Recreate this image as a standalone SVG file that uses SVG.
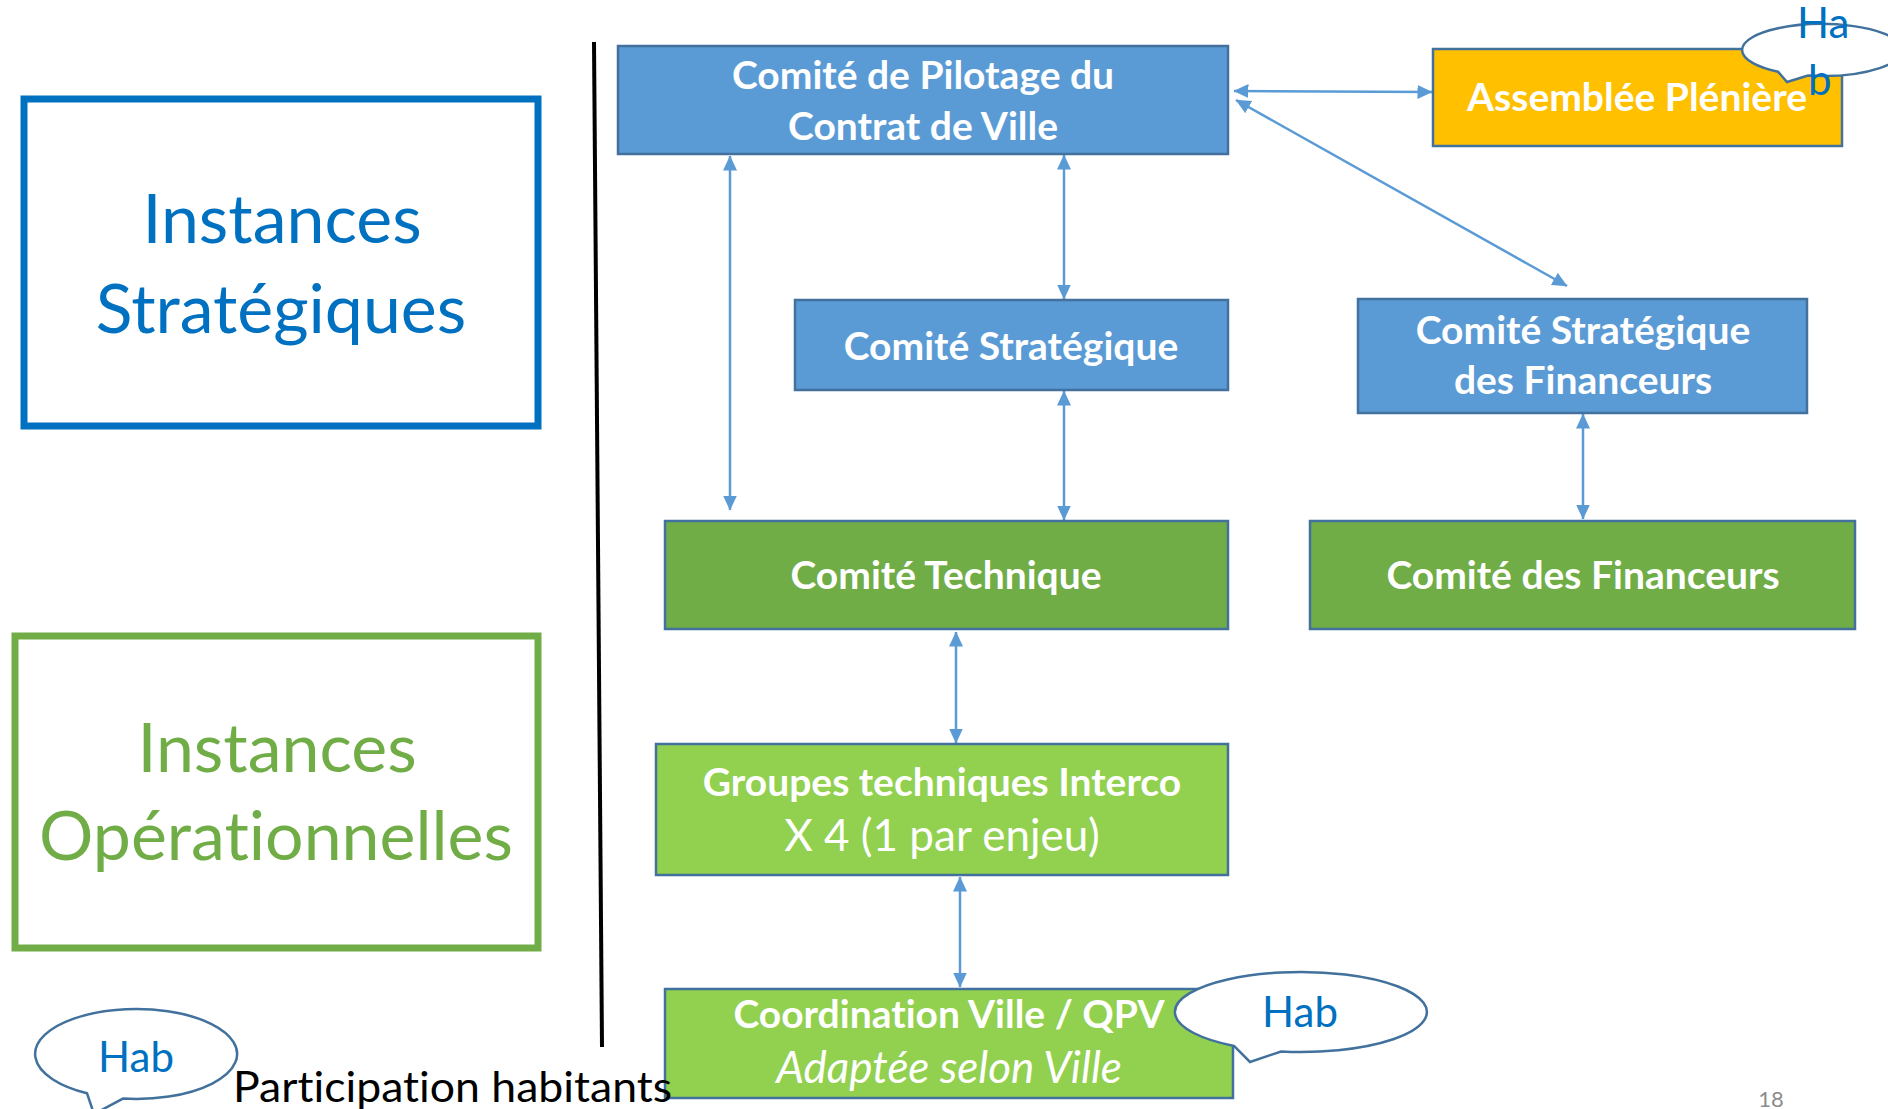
<svg xmlns="http://www.w3.org/2000/svg" width="1888" height="1109" viewBox="0 0 1888 1109">
<defs>
<style>
text{font-variant-ligatures:none;font-feature-settings:"liga" 0,"clig" 0}
.box{stroke:#41719C;stroke-width:2.5}
.blue{fill:#5B9BD5}
.dgreen{fill:#70AD47}
.lgreen{fill:#92D050}
.gold{fill:#FFC000}
.lbl{font-family:Lato,"Liberation Sans",sans-serif;fill:#FFFFFF;text-anchor:middle}
.b{font-weight:bold;font-size:39px}
.r{font-size:44px}
.conn{stroke:#5B9BD5;stroke-width:2.5;fill:none;marker-start:url(#ah);marker-end:url(#ah)}
.call{fill:#FFFFFF;stroke:#41719C;stroke-width:2.5}
.hab{font-family:Lato,"Liberation Sans",sans-serif;font-size:42px;fill:#0070C0}
.big{font-family:Lato,"Liberation Sans",sans-serif;font-size:68px;text-anchor:middle}
</style>
<marker id="ah" viewBox="0 0 15 14" refX="14.5" refY="7" markerWidth="15" markerHeight="14" markerUnits="userSpaceOnUse" orient="auto-start-reverse">
<path d="M0,0 L15,7 L0,14 Z" fill="#5B9BD5"/>
</marker>
</defs>
<rect width="1888" height="1109" fill="#FFFFFF"/>

<g id="instances-strategiques">
<rect x="24" y="99" width="514" height="327" fill="none" stroke="#0070C0" stroke-width="7"/>
<text class="big" x="282" y="243" fill="#0070C0">Instances</text>
<text class="big" x="281" y="333" fill="#0070C0">Stratégiques</text>
</g>

<g id="instances-operationnelles">
<rect x="15" y="636" width="523" height="312" fill="none" stroke="#70AD47" stroke-width="7"/>
<text class="big" x="277" y="772" fill="#70AD47">Instances</text>
<text class="big" x="276" y="860" fill="#70AD47">Opérationnelles</text>
</g>

<g id="separator">
<line x1="594" y1="42" x2="602" y2="1047" stroke="#000000" stroke-width="4"/>
</g>

<g id="connectors">
<line class="conn" x1="1234" y1="91" x2="1432" y2="92"/>
<line class="conn" x1="1236" y1="100" x2="1567" y2="286"/>
<line class="conn" x1="730" y1="156" x2="730" y2="510"/>
<line class="conn" x1="1064" y1="155" x2="1064" y2="299"/>
<line class="conn" x1="1064" y1="391" x2="1064" y2="520"/>
<line class="conn" x1="956" y1="632" x2="956" y2="743"/>
<line class="conn" x1="960" y1="877" x2="960" y2="987"/>
<line class="conn" x1="1583" y1="414" x2="1583" y2="519"/>
</g>

<g id="comite-pilotage">
<rect class="box blue" x="618" y="46" width="610" height="108"/>
<text class="lbl b" x="923" y="89">Comité de Pilotage du</text>
<text class="lbl b" x="923" y="140">Contrat de Ville</text>
</g>

<g id="assemblee-pleniere">
<rect class="box gold" x="1433" y="49" width="409" height="97"/>
<text class="lbl b" x="1637" y="111">Assemblée Plénière</text>
</g>

<g id="comite-strategique">
<rect class="box blue" x="795" y="300" width="433" height="90"/>
<text class="lbl b" x="1011" y="360">Comité Stratégique</text>
</g>

<g id="comite-strategique-financeurs">
<rect class="box blue" x="1358" y="299" width="449" height="114"/>
<text class="lbl b" x="1583" y="344">Comité Stratégique</text>
<text class="lbl b" x="1583" y="394">des Financeurs</text>
</g>

<g id="comite-technique">
<rect class="box dgreen" x="665" y="521" width="563" height="108"/>
<text class="lbl b" x="946" y="589">Comité Technique</text>
</g>

<g id="comite-financeurs">
<rect class="box dgreen" x="1310" y="521" width="545" height="108"/>
<text class="lbl b" x="1583" y="589">Comité des Financeurs</text>
</g>

<g id="groupes-techniques">
<rect class="box lgreen" x="656" y="744" width="572" height="131"/>
<text class="lbl b" x="942" y="796">Groupes techniques Interco</text>
<text class="lbl r" x="942" y="851">X 4 (1 par enjeu)</text>
</g>

<g id="coordination-ville">
<rect class="box lgreen" x="665" y="989" width="568" height="109"/>
<text class="lbl b" x="949" y="1028">Coordination Ville / QPV</text>
<text class="lbl r" x="949" y="1083" font-style="italic">Adaptée selon Ville</text>
</g>

<g id="hab-assemblee">
<path class="call" d="M1778,71.7 A80,26 0 1,1 1808,75.6 L1787,82 Z"/>
<text class="hab" x="1797" y="38">Ha</text>
<text class="hab" x="1808" y="95">b</text>
</g>

<g id="hab-coordination">
<path class="call" d="M1234,1045.9 A126,40 0 1,1 1281,1051.5 L1250,1062 Z"/>
<text class="hab" x="1300" y="1027" text-anchor="middle">Hab</text>
</g>

<g id="hab-legende">
<path class="call" d="M87,1093.3 A101,45 0 1,1 123,1098.6 L94,1114 Z"/>
<text class="hab" x="136" y="1072" text-anchor="middle">Hab</text>
<text x="233" y="1102" font-family="Lato, 'Liberation Sans', sans-serif" font-size="42" fill="#000000" textLength="439" lengthAdjust="spacingAndGlyphs">Participation habitants</text>
</g>

<text x="1771" y="1107" font-family="Lato, 'Liberation Sans', sans-serif" font-size="22" fill="#8C8C8C" text-anchor="middle">18</text>
</svg>
